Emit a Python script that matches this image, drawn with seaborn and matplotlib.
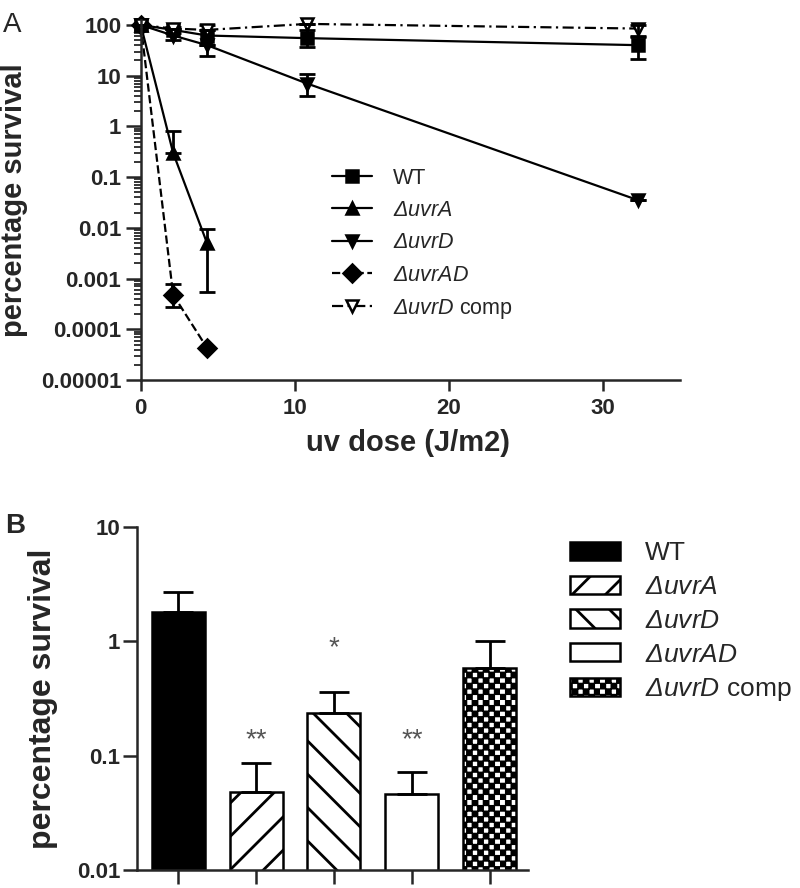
import numpy as np
import pandas as pd
import matplotlib
matplotlib.use('Agg')
import matplotlib.pyplot as plt
import matplotlib.hatch as mhatch
from matplotlib.path import Path
from matplotlib.ticker import NullFormatter, NullLocator
import seaborn as sns

# ---- Panel A: survival vs uv dose ----
dose = [0, 2.1, 4.3, 10.8, 32.3]
wt = [100, 80, 62, 55, 40]
wt_lo = [100, 70, 25, 37, 21]
wt_hi = [100, 90, 100, 78, 58]
uvra = [100, 0.3, 0.005]
uvra_lo = [100, 0.3, 0.00055]
uvra_hi = [100, 0.8, 0.0095]
uvrd = [100, 62, 40, 7, 0.035]
uvrd_lo = [100, 50, 40, 4, 0.035]
uvrd_hi = [100, 82, 40, 11, 0.035]
uvrad = [100, 0.00048, 0.000043]
uvrad_lo = [100, 0.00027, 0.000043]
uvrad_hi = [100, 0.0008, 0.000043]
comp = [100, 85, 80, 105, 85]
comp_lo = [100, 85, 80, 105, 60]
comp_hi = [100, 85, 80, 105, 100]

ytick_vals = [1e-5, 1e-4, 1e-3, 1e-2, 0.1, 1, 10, 100]
ytick_labels = ['0.00001', '0.0001', '0.001', '0.01', '0.1', '1', '10', '100']
xtick_vals = [0, 10, 20, 30]

# ---- Panel B: survival per strain ----
strains = ['WT', r'$\Delta uvrA$', r'$\Delta uvrD$', r'$\Delta uvrAD$', r'$\Delta uvrD$ comp']
survival = [1.8, 0.048, 0.235, 0.046, 0.58]
survival_err = [0.9, 0.039, 0.125, 0.026, 0.42]
stars = ['', '**', '*', '**', '']
star_y = [1, 0.137, 0.87, 0.137, 1]


# checkerboard hatch (matplotlib has none), drawn for the 'o' hatch character
class CheckerHatch(mhatch.HatchPatternBase):
    def __init__(self, hatch, density):
        self.n = hatch.count('o') * density * 3 // 2
        self.num_vertices = self.n * self.n * 2 * 5

    def set_vertices_and_codes(self, vertices, codes):
        step = 1.0 / (2 * self.n)
        half = step * 0.36
        sq = np.array([[-1, -1], [1, -1], [1, 1], [-1, 1], [-1, -1]]) * half
        parts = []
        for i in range(2 * self.n):
            for j in range(2 * self.n):
                if (i + j) % 2 == 0:
                    parts.append(sq + [(i + 0.5) * step, (j + 0.5) * step])
        vertices[:] = np.concatenate(parts)
        codes[:] = np.tile([Path.MOVETO, Path.LINETO, Path.LINETO, Path.LINETO, Path.CLOSEPOLY], len(parts))


mhatch._hatch_types = [t for t in mhatch._hatch_types if t is not mhatch.SmallCircles] + [CheckerHatch]

sns.set_style('ticks')
plt.rcParams['font.family'] = ['Liberation Sans', 'DejaVu Sans']
plt.rcParams['mathtext.fontset'] = 'custom'
plt.rcParams['mathtext.rm'] = 'Liberation Sans:italic'
plt.rcParams['mathtext.it'] = 'Liberation Sans:italic'
plt.rcParams['hatch.linewidth'] = 2.0
plt.rcParams['axes.linewidth'] = 1.8

fig = plt.figure(figsize=(8, 8.88), dpi=100)
ax1 = fig.add_axes([0.176, 0.572, 0.674, 0.4054])
ax2 = fig.add_axes([0.171, 0.0203, 0.489, 0.3863])

# Panel A
ax1.set_yscale('log')
series = [
    ('WT', wt, wt_lo, wt_hi, 's', '-', 'black'),
    (r'$\Delta uvrA$', uvra, uvra_lo, uvra_hi, '^', '-', 'black'),
    (r'$\Delta uvrD$', uvrd, uvrd_lo, uvrd_hi, 'v', '-', 'black'),
    (r'$\Delta uvrAD$', uvrad, uvrad_lo, uvrad_hi, 'D', '--', 'black'),
    (r'$\Delta uvrD$ comp', comp, comp_lo, comp_hi, 'v', (0, (5, 2, 1, 2)), 'white'),
]
for label, y, lo, hi, mk, ls, fc in series:
    x = dose[:len(y)]
    sns.lineplot(x=x, y=y, ax=ax1, color='black', marker=mk, linestyle=ls, markersize=9,
                 mfc=fc, mec='black', mew=1.8, lw=1.6, label=label, clip_on=False)
    yerr = [np.array(y) - np.array(lo), np.array(hi) - np.array(y)]
    ax1.errorbar(x, y, yerr=yerr, fmt='none', ecolor='black', elinewidth=2,
                 capsize=6, capthick=2, clip_on=False)

ax1.set_xlim(0, 35)
ax1.set_ylim(1e-5, 125)
ax1.set_xticks(xtick_vals)
ax1.set_yticks(ytick_vals, ytick_labels)
ax1.yaxis.set_minor_formatter(NullFormatter())
for lab in ax1.get_xticklabels() + ax1.get_yticklabels():
    lab.set_fontweight('bold')
    lab.set_fontsize(16)
ax1.tick_params(axis='y', which='major', length=11, width=1.8, pad=3)
ax1.tick_params(axis='y', which='minor', length=5, width=1.3)
ax1.tick_params(axis='x', length=8, width=1.8, pad=5)
ax1.set_xlabel('uv dose (J/m2)', fontsize=21, fontweight='bold')
ax1.set_ylabel('percentage survival', fontsize=21, fontweight='bold')
ax1.xaxis.set_label_coords(0.495, -0.135)
ax1.yaxis.set_label_coords(-0.21, 0.5)
ax1.legend(loc='upper left', bbox_to_anchor=(0.354, 0.59), frameon=False, fontsize=15.5,
           handlelength=1.85, handletextpad=0.98, labelspacing=0.525, borderpad=0, borderaxespad=0)
sns.despine(ax=ax1)

# Panel B
df_b = pd.DataFrame({'strain': strains, 'survival': survival})
sns.barplot(data=df_b, x='strain', y='survival', ax=ax2, color='white', width=0.68,
            errorbar=None, edgecolor='black', linewidth=1.8)
ax2.set_yscale('log')
fills = ['black', 'white', 'white', 'white', 'white']
hatches = ['', '/', '\\', '', 'o']
bars = list(ax2.patches)
for bar, fc, h in zip(bars, fills, hatches):
    bar.set_facecolor(fc)
    bar.set_edgecolor('black')
    bar.set_hatch(h)
ax2.errorbar(range(len(survival)), survival, yerr=[np.zeros(len(survival)), survival_err],
             fmt='none', ecolor='black', elinewidth=2, capsize=11, capthick=2)
for i, s in enumerate(stars):
    if s:
        ax2.text(i, star_y[i], s, ha='center', va='center', fontsize=20, color='#555555')
ax2.set_xlim(-0.53, 4.49)
ax2.set_ylim(0.01, 10)
ax2.set_yticks([0.01, 0.1, 1, 10], ['0.01', '0.1', '1', '10'])
ax2.yaxis.set_minor_locator(NullLocator())
for lab in ax2.get_yticklabels():
    lab.set_fontweight('bold')
    lab.set_fontsize(16)
ax2.tick_params(axis='y', length=10, width=1.8, pad=2)
ax2.tick_params(axis='x', length=10, width=1.8, labelbottom=False)
ax2.set_xlabel('')
ax2.set_ylabel('percentage survival', fontsize=23, fontweight='bold')
ax2.yaxis.set_label_coords(-0.202, 0.5)
fig.legend(bars, strains, loc='upper left', bbox_to_anchor=(0.712, 0.3905), frameon=False,
           fontsize=19, handlelength=1.9, handleheight=0.68, handletextpad=0.95,
           labelspacing=0.37, borderpad=0, borderaxespad=0)
sns.despine(ax=ax2)

fig.text(0.004, 0.987, 'A', fontsize=20, va='top')
fig.text(0.006, 0.422, 'B', fontsize=20, fontweight='bold', va='top')

fig.savefig('out.png', dpi=100)
